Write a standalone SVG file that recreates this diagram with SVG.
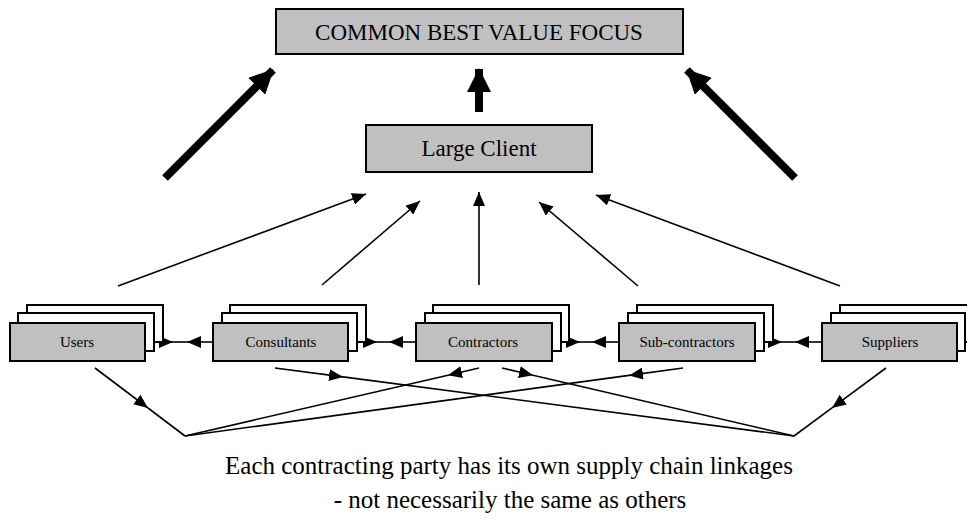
<svg xmlns="http://www.w3.org/2000/svg" width="967" height="518" viewBox="0 0 967 518">
<defs>
<marker id="thin" markerUnits="userSpaceOnUse" markerWidth="14" markerHeight="12" refX="14" refY="6" orient="auto">
<path d="M0,0 L14,6 L0,12 z" fill="#000"/>
</marker>
<marker id="thick" markerUnits="userSpaceOnUse" markerWidth="24" markerHeight="24" refX="23" refY="12" orient="auto">
<path d="M0,0 L24,12 L0,24 z" fill="#000"/>
</marker>
</defs>
<style>
.main{fill:#c0c0c0;stroke:#000;stroke-width:2}
.back{fill:#fff;stroke:#000;stroke-width:2}
.t{font-family:"Liberation Serif","Times New Roman",serif;fill:#000;text-anchor:middle}
.big{font-size:23px}
.cap{font-size:25px}
.sm{font-size:15px}
.c{stroke:#000;stroke-width:1.6;fill:none}
.ca{stroke:#000;stroke-width:1.6;fill:none;marker-end:url(#thin)}
.thk{stroke:#000;stroke-width:8;fill:none;marker-end:url(#thick)}
</style>
<rect width="967" height="518" fill="#fff"/>

<g id="connectors">
<line class="thk" x1="165" y1="178" x2="273" y2="70"/>
<line class="thk" x1="479" y1="112" x2="479" y2="69"/>
<line class="thk" x1="795" y1="178" x2="687" y2="70"/>
<line class="ca" x1="118" y1="286" x2="366" y2="194"/>
<line class="ca" x1="322" y1="285" x2="420" y2="201"/>
<line class="ca" x1="479" y1="285" x2="479" y2="192"/>
<line class="ca" x1="638" y1="286" x2="539" y2="202"/>
<line class="ca" x1="840" y1="286" x2="596" y2="195"/>
<line class="ca" x1="145" y1="342" x2="173" y2="342"/>
<line class="ca" x1="213" y1="342" x2="187" y2="342"/>
<line class="ca" x1="348" y1="342" x2="377" y2="342"/>
<line class="ca" x1="416" y1="342" x2="389" y2="342"/>
<line class="ca" x1="552" y1="342" x2="580" y2="342"/>
<line class="ca" x1="619" y1="342" x2="592" y2="342"/>
<line class="ca" x1="755" y1="342" x2="782" y2="342"/>
<line class="ca" x1="822" y1="342" x2="795" y2="342"/>
<line class="c" x1="173" y1="342" x2="187" y2="342"/>
<line class="c" x1="377" y1="342" x2="389" y2="342"/>
<line class="c" x1="580" y1="342" x2="592" y2="342"/>
<line class="c" x1="782" y1="342" x2="795" y2="342"/>
<line class="ca" x1="95" y1="368" x2="148" y2="408"/>
<line class="c" x1="148" y1="408" x2="185" y2="436"/>
<line class="ca" x1="479" y1="368" x2="448" y2="375.2"/>
<line class="c" x1="448" y1="375.2" x2="185" y2="436"/>
<line class="ca" x1="683" y1="368" x2="629" y2="375.4"/>
<line class="c" x1="629" y1="375.4" x2="185" y2="436"/>
<line class="ca" x1="275" y1="368" x2="343" y2="376.9"/>
<line class="c" x1="343" y1="376.9" x2="794" y2="436"/>
<line class="ca" x1="502" y1="368" x2="533" y2="375.2"/>
<line class="c" x1="533" y1="375.2" x2="794" y2="436"/>
<line class="ca" x1="886" y1="368" x2="832" y2="407.9"/>
<line class="c" x1="832" y1="407.9" x2="794" y2="436"/>
</g>

<g id="focus">
<rect class="main" x="276" y="9" width="407" height="45"/>
<text class="t big" x="479" y="39.5">COMMON BEST VALUE FOCUS</text>
</g>

<g id="large-client">
<rect class="main" x="366" y="125" width="226" height="47"/>
<text class="t big" x="479" y="156">Large Client</text>
</g>

<g id="users">
<rect class="back" x="27" y="305" width="136" height="37"/>
<rect class="back" x="18" y="313" width="136" height="38"/>
<rect class="main" x="10" y="323" width="135" height="38"/>
<text class="t sm" x="77" y="347">Users</text>
</g>

<g id="consultants">
<rect class="back" x="230" y="305" width="136" height="37"/>
<rect class="back" x="222" y="313" width="135" height="38"/>
<rect class="main" x="213" y="323" width="135" height="38"/>
<text class="t sm" x="281" y="347">Consultants</text>
</g>

<g id="contractors">
<rect class="back" x="433" y="305" width="136" height="37"/>
<rect class="back" x="425" y="313" width="136" height="38"/>
<rect class="main" x="416" y="323" width="136" height="38"/>
<text class="t sm" x="483" y="347">Contractors</text>
</g>

<g id="sub-contractors">
<rect class="back" x="637" y="305" width="136" height="37"/>
<rect class="back" x="628" y="313" width="136" height="38"/>
<rect class="main" x="619" y="323" width="136" height="38"/>
<text class="t sm" x="687" y="347">Sub-contractors</text>
</g>

<g id="suppliers">
<rect class="back" x="840" y="305" width="136" height="37"/>
<rect class="back" x="831" y="313" width="134" height="38"/>
<rect class="main" x="822" y="323" width="135" height="38"/>
<text class="t sm" x="890" y="347">Suppliers</text>
</g>

<g id="caption">
<text class="t cap" x="509" y="474">Each contracting party has its own supply chain linkages</text>
<text class="t cap" x="510" y="508">- not necessarily the same as others</text>
</g>
</svg>
